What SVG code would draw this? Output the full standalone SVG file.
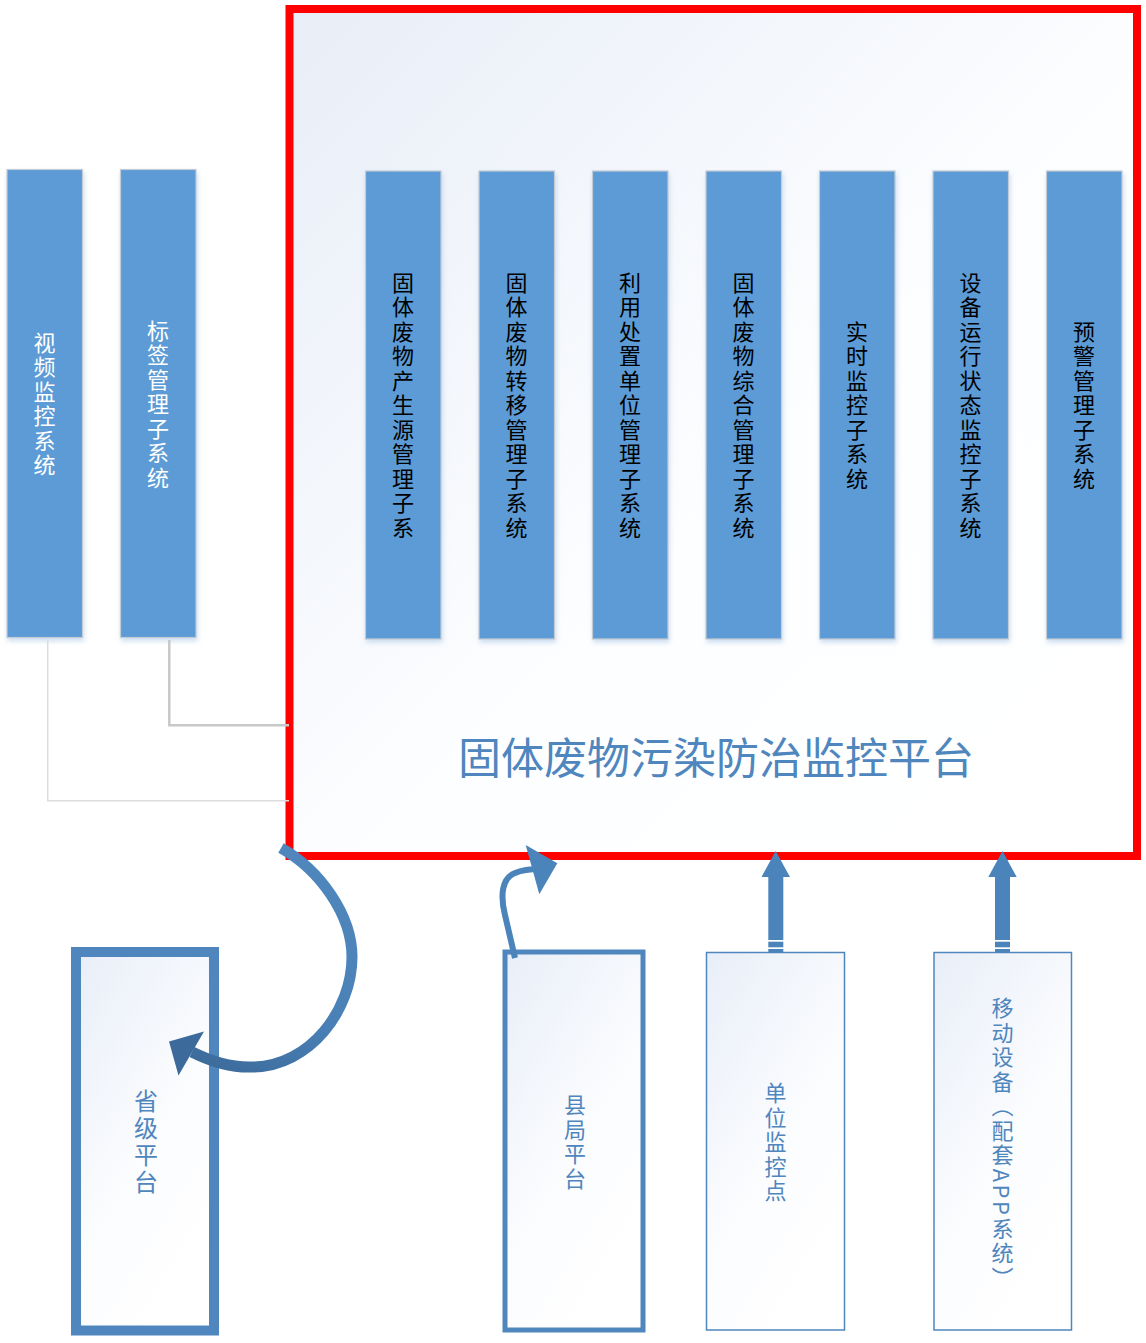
<svg xmlns="http://www.w3.org/2000/svg" width="1146" height="1343" viewBox="0 0 1146 1343">
<defs>
<linearGradient id="frameFill" x1="0" y1="0" x2="1" y2="1">
<stop offset="0" stop-color="#e8edf7"/>
<stop offset="0.55" stop-color="#fdfeff"/>
<stop offset="1" stop-color="#ffffff"/>
</linearGradient>
<linearGradient id="boxFill" x1="0" y1="0" x2="0.6" y2="1">
<stop offset="0" stop-color="#e8eef8"/>
<stop offset="0.6" stop-color="#fbfcfe"/>
<stop offset="1" stop-color="#ffffff"/>
</linearGradient>
<linearGradient id="curveFill" gradientUnits="userSpaceOnUse" x1="300" y1="850" x2="190" y2="1060">
<stop offset="0" stop-color="#4f87bd"/>
<stop offset="0.6" stop-color="#4a80b6"/>
<stop offset="1" stop-color="#3c6b9b"/>
</linearGradient>
<filter id="shadow" x="-20%" y="-5%" width="140%" height="115%">
<feDropShadow dx="1" dy="3" stdDeviation="2.5" flood-color="#b7cfea" flood-opacity="0.7"/>
</filter>
</defs>
<style>
.col{fill:#5b9bd5;stroke:#c3cbd4;stroke-width:1.2}
.vt{font-family:"Noto Sans CJK SC","Liberation Sans",sans-serif;writing-mode:vertical-rl;text-anchor:middle}
.black{fill:#000000;font-size:22px;letter-spacing:2.5px}
.white{fill:#ffffff;font-size:22px;letter-spacing:2.5px}
.blue{fill:#4f86bd;font-size:22px;letter-spacing:2.5px}
.box{fill:url(#boxFill);stroke:#4f86bd}
.arr{fill:#4a84ba}
</style>

<g id="platform">
<rect x="289.5" y="9" width="847.5" height="847" fill="url(#frameFill)" stroke="#ff0000" stroke-width="8"/>
<text x="716" y="774" font-family="Noto Sans CJK SC, Liberation Sans, sans-serif" font-size="43" fill="#4f86bd" text-anchor="middle">固体废物污染防治监控平台</text>
</g>

<g id="sub1"><rect class="col" x="365.5" y="171" width="75.5" height="468" filter="url(#shadow)"/><text class="vt black" x="403" y="406">固体废物产生源管理子系</text></g>
<g id="sub2"><rect class="col" x="479" y="171" width="75.5" height="468" filter="url(#shadow)"/><text class="vt black" x="516.5" y="406">固体废物转移管理子系统</text></g>
<g id="sub3"><rect class="col" x="592.5" y="171" width="75.5" height="468" filter="url(#shadow)"/><text class="vt black" x="630" y="406">利用处置单位管理子系统</text></g>
<g id="sub4"><rect class="col" x="706" y="171" width="75.5" height="468" filter="url(#shadow)"/><text class="vt black" x="743.5" y="406">固体废物综合管理子系统</text></g>
<g id="sub5"><rect class="col" x="819.5" y="171" width="75.5" height="468" filter="url(#shadow)"/><text class="vt black" x="857" y="406">实时监控子系统</text></g>
<g id="sub6"><rect class="col" x="933" y="171" width="75.5" height="468" filter="url(#shadow)"/><text class="vt black" x="970.5" y="406">设备运行状态监控子系统</text></g>
<g id="sub7"><rect class="col" x="1046.5" y="171" width="75.5" height="468" filter="url(#shadow)"/><text class="vt black" x="1084" y="406">预警管理子系统</text></g>

<g id="video"><rect class="col" x="7" y="169.5" width="75.5" height="468" filter="url(#shadow)"/><text class="vt white" x="44.5" y="405">视频监控系统</text></g>
<g id="tag"><rect class="col" x="120.5" y="169.5" width="75.5" height="468" filter="url(#shadow)"/><text class="vt white" x="158" y="405">标签管理子系统</text></g>

<g id="province"><rect class="box" x="76" y="952" width="138" height="378.5" stroke-width="10"/><text class="vt blue" x="146" y="1143" style="font-size:24px;letter-spacing:3px">省级平台</text></g>
<g id="county"><rect class="box" x="505" y="952" width="138" height="378" stroke-width="5"/><text class="vt blue" x="575" y="1143">县局平台</text></g>
<g id="unit"><rect class="box" x="706.5" y="952.5" width="138" height="377.5" stroke-width="1.5"/><text class="vt blue" x="775.5" y="1143">单位监控点</text></g>
<g id="mobile"><rect class="box" x="934" y="952.5" width="137.5" height="377.5" stroke-width="1.5"/><text class="vt blue" x="1002.5" y="1144">移动设备（配套APP系统）</text></g>

<g id="connectors">
<polyline points="47.7,638 47.7,800.7 289,800.7" fill="none" stroke="#dcdcdc" stroke-width="1.5"/>
<polyline points="169.3,640 169.3,725.3 289,725.3" fill="none" stroke="#c8c8c8" stroke-width="2.5"/>
<path d="M281,848 C320,870 352,915 352,957 C352,1010 310,1066 253,1067 C230,1068 208,1060 192,1052" fill="none" stroke="url(#curveFill)" stroke-width="11"/>
<polygon points="169,1041.5 204,1031.5 178.5,1075.5" fill="#3c6b9b"/>
<path d="M515,958 L505,915 C500,895 502,878 515,873 C522,870 530,869 540,869" fill="none" stroke="#4a84ba" stroke-width="6"/>
<polygon points="525.7,845 557.3,863.3 539.3,894.3" class="arr"/>
<polygon points="775.7,851 761.5,877 790,877" class="arr"/>
<rect x="768.3" y="876.5" width="15" height="63.5" class="arr"/>
<rect x="768.3" y="941.7" width="15" height="5.6" class="arr"/>
<rect x="768.3" y="949" width="15" height="4" class="arr"/>
<polygon points="1002.5,851 988.3,877 1016.7,877" class="arr"/>
<rect x="995" y="876.5" width="15" height="63.5" class="arr"/>
<rect x="995" y="941.7" width="15" height="5.6" class="arr"/>
<rect x="995" y="949" width="15" height="4" class="arr"/>
</g>
</svg>
